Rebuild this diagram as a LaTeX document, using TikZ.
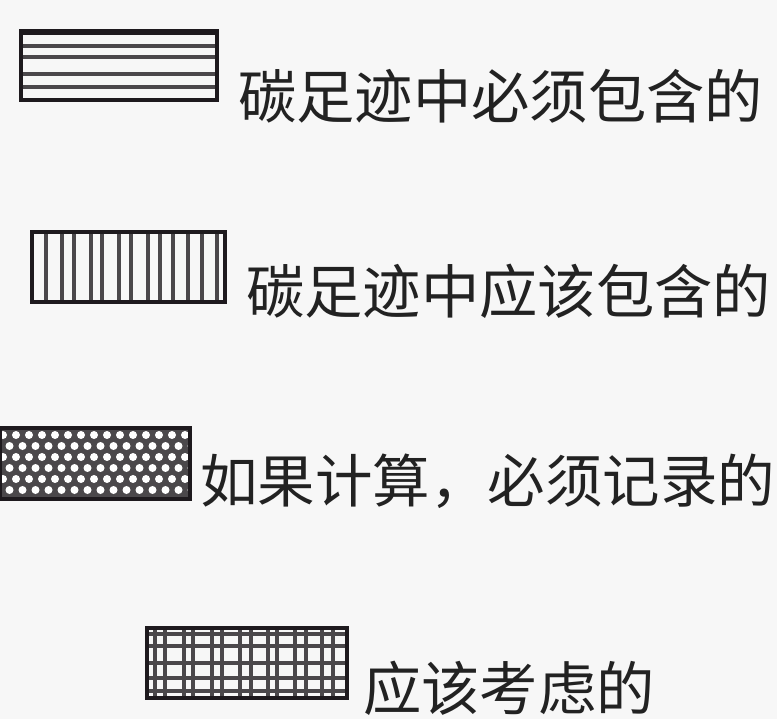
\documentclass[tikz,border=0pt]{standalone}
\usepackage{fontspec}
\newfontfamily\cjk{Noto Sans CJK SC}
\definecolor{ink}{HTML}{1E1A1E}
\definecolor{txt}{HTML}{222222}
\begin{document}
\begin{tikzpicture}[x=1pt,y=-1pt,
  frame/.style={draw=ink,line width=3.4pt},
  hatch/.style={draw=ink!80,line width=3.2pt},
  label/.style={anchor=west,inner sep=0pt,text=txt,font=\cjk\fontsize{58.3}{60}\selectfont}]
\useasboundingbox[fill=white!97!black] (0,0) rectangle (777,719);

% ---- box 1: horizontal lines
\node[inner sep=0pt,minimum width=196pt,minimum height=70pt,anchor=north west] (b1) at (21,31) {};
\foreach \yy in {46,57,74,87}{
  \draw[hatch] (21,\yy) -- (217,\yy);
}
\draw[frame] (21,31) rectangle (217,100);
\draw[ink,line width=4.5pt] (21,32.5) -- (217,32.5);
\node[label] (t1) at (238,96) {碳足迹中必须包含的};

% ---- box 2: vertical lines
\node[inner sep=0pt,minimum width=193pt,minimum height=70pt,anchor=north west] (b2) at (32,232) {};
\foreach \xx in {46,62,74,91,102,119,131,148,160,173,188,202,217}{
  \draw[hatch] (\xx,232) -- (\xx,302);
}
\draw[frame] (32,232) rectangle (225,302);
\node[label] (t2) at (246,291) {碳足迹中应该包含的};

% ---- box 3: dotted crosshatch
\node[inner sep=0pt,minimum width=190pt,minimum height=71pt,anchor=north west] (b3) at (0,428) {};
\begin{scope}
  \clip (0,428) rectangle (190,499);
  \fill[ink!80] (0,428) rectangle (190,499);
  \foreach \j in {0,...,6}{
    \pgfmathsetmacro{\off}{mod(\j,2)*6.5}
    \foreach \i in {0,...,15}{
      \fill[white] (\i*13+\off+3,\j*11+435) circle (4pt);
    }
  }
\end{scope}
\draw[frame] (0,428) rectangle (190,499);
\node[label,font=\cjk\fontsize{57.5}{60}\selectfont] (t3) at (200,481) {如果计算，必须记录的};

% ---- box 4: grid
\node[inner sep=0pt,minimum width=200pt,minimum height=70pt,anchor=north west] (b4) at (147,628) {};
\foreach \xx in {155,165,184,193,212,222,240,251,268,277,295,306,322,333}{
  \draw[hatch] (\xx,628) -- (\xx,698);
}
\foreach \yy in {634,646,663,678,691}{
  \draw[hatch] (147,\yy) -- (347,\yy);
}
\draw[ink,line width=4.2pt] (147,628) rectangle (347,698);
\node[label] (t4) at (363,688) {应该考虑的};
\end{tikzpicture}
\end{document}
